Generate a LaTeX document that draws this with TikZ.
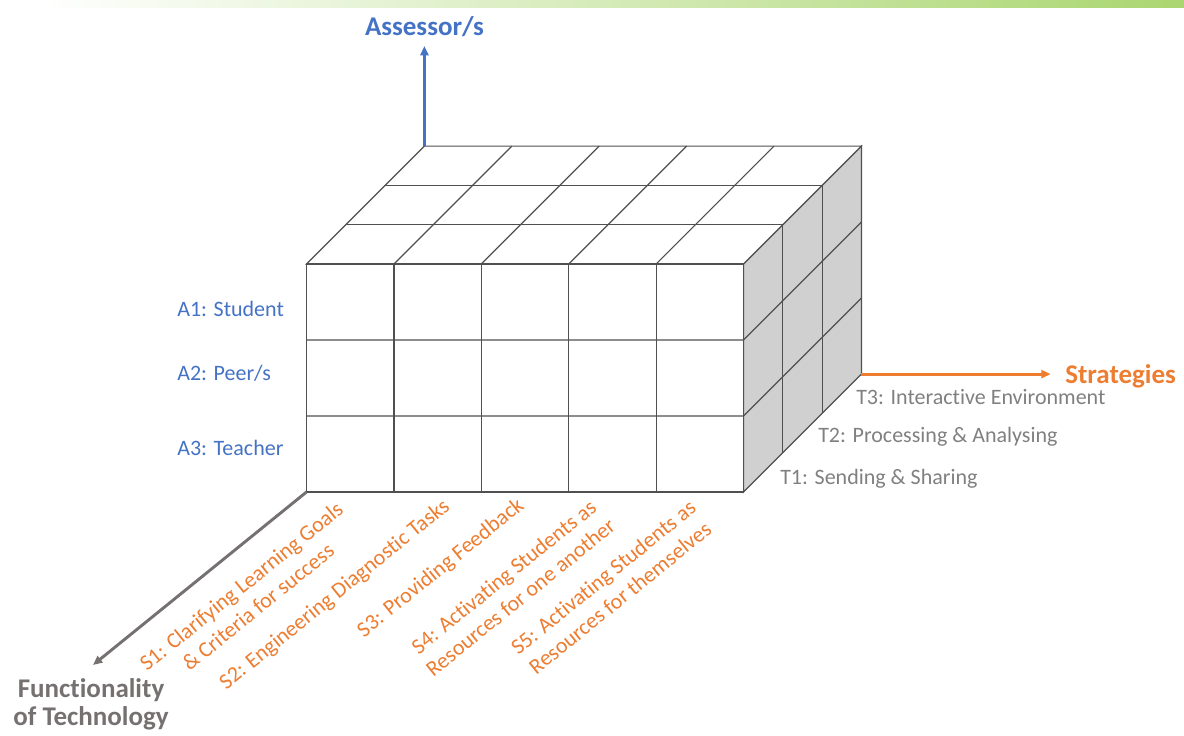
\documentclass[tikz,border=0pt]{standalone}
\usepackage{fontspec}
\setmainfont{Carlito}[Ligatures=NoCommon]
\usepackage{tikz}
\usetikzlibrary{shapes, arrows.meta, positioning, calc}

\begin{document}
\begin{tikzpicture}[x=0.75pt,y=0.75pt,yscale=-1,xscale=1,
	cubeline/.style={draw={rgb, 255:red, 80; green, 80; blue, 80}, line width=0.9},
	axisarrow/.style={line width=2.2, -{Triangle[length=7pt,width=6pt]}},
	axislbl/.style={inner sep=0.75pt, font=\fontsize{20.25}{21}\selectfont\bfseries},
	assessorlbl/.style={anchor=west, inner sep=0.75pt, text={rgb, 255:red, 68; green, 114; blue, 196}, font=\fontsize{16.5}{20}\selectfont},
	techlbl/.style={anchor=west, inner sep=0.75pt, text={rgb, 255:red, 128; green, 128; blue, 128}, font=\fontsize{16.5}{20}\selectfont},
	stratlbl/.style={rotate=39, align=center, inner sep=0.75pt, text={rgb, 255:red, 237; green, 125; blue, 49}, font=\fontsize{16.5}{20}\selectfont}]
%set diagram left start at 0, and has height of 735
\useasboundingbox (0,0) rectangle (1184,735);

%Shape: Top band
\shade [left color=white, right color={rgb, 255:red, 170; green, 214; blue, 112}] (40,0) rectangle (1184,8) ;

%Cube corners
\coordinate (flb) at (306.5,492) ;
\coordinate (blt) at (424.4,146.1) ;
\coordinate (brb) at (861.4,374.1) ;
\coordinate (ftip) at (93,665) ;

%Shape: Cube right face
\draw [cubeline, fill={rgb, 255:red, 208; green, 208; blue, 208}] (743.5,264) -- (861.4,146.1) -- (861.4,374.1) -- (743.5,492) -- cycle ;
%Shape: Cube top face
\draw [cubeline, fill=white] (306.5,264) -- (743.5,264) -- (861.4,146.1) -- (424.4,146.1) -- cycle ;
%Shape: Cube front face
\draw [cubeline, fill=white] (306.5,264) rectangle (743.5,492) ;

%Straight Lines: columns on front and top faces
\foreach \k in {1,...,4} {
	\draw [cubeline] (306.5+87.4*\k,264) -- ++(0,228) ;
	\draw [cubeline] (306.5+87.4*\k,264) -- ++(117.9,-117.9) ;
}
%Straight Lines: rows and layers
\foreach \j in {1,2} {
	\draw [cubeline] (306.5+39.3*\j,264-39.3*\j) -- ++(437,0) ;
	\draw [cubeline] (743.5+39.3*\j,264-39.3*\j) -- ++(0,228) ;
	\draw [cubeline] (306.5,264+76*\j) -- (743.5,264+76*\j) -- ++(117.9,-117.9) ;
}

% Text Node
\node (assessor) [axislbl, anchor=south, text={rgb, 255:red, 68; green, 114; blue, 196}] at (424.4,38) {Assessor/s};
% Text Node
\node (strategies) [axislbl, anchor=west, text={rgb, 255:red, 237; green, 125; blue, 49}] at (1064,376) {Strategies};
% Text Node
\node (functionality) [axislbl, align=center, text={rgb, 255:red, 118; green, 113; blue, 113}] at (91,704) {Functionality\\of Technology};

%Straight Lines: axes
\draw [axisarrow, draw={rgb, 255:red, 68; green, 114; blue, 196}, shorten >=6pt] (blt) -- (assessor.south) ;
\draw [axisarrow, draw={rgb, 255:red, 237; green, 125; blue, 49}, shorten >=10pt] (brb) -- (brb -| strategies.west) ;
\draw [axisarrow, draw={rgb, 255:red, 118; green, 113; blue, 113}] (flb) -- (ftip) ;

% Text Node
\node (a1) [assessorlbl] at (176,309) {A1: Student};
\node (a2) [assessorlbl] at (176,373) {A2: Peer/s};
\node (a3) [assessorlbl] at (176,448) {A3: Teacher};

% Text Node
\node (t1) [techlbl] at (779,479) {T1: Sending \& Sharing};
\node (t2) [techlbl] at (817,437) {T2: Processing \& Analysing};
\node (t3) [techlbl] at (855,397) {T3: Interactive Environment};

% Text Node
\node (s1) [stratlbl] at (249.5,596.5) {S1: Clarifying Learning Goals\\\& Criteria for success};
\node (s2) [stratlbl] at (335,595) {S2: Engineering Diagnostic Tasks};
\node (s3) [stratlbl] at (441,568.5) {S3: Providing Feedback};
\node (s4) [stratlbl] at (512,587) {S4: Activating Students as\\Resources for one another};
\node (s5) [stratlbl] at (611.5,587.5) {S5: Activating Students as\\Resources for themselves};

\end{tikzpicture}
\end{document}
